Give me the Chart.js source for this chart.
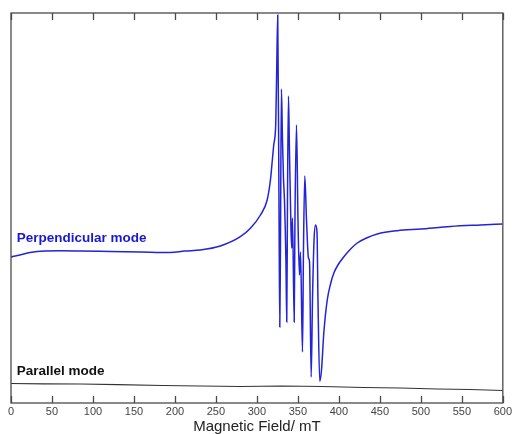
<!DOCTYPE html>
<html>
<head>
<meta charset="utf-8">
<script src="https://cdn.jsdelivr.net/npm/chart.js@4/dist/chart.umd.min.js"></script>
<style>
  html, body { margin: 0; padding: 0; background: #fff; }
  canvas { display: block; }
</style>
</head>
<body>
<canvas id="epr" width="514" height="434"></canvas>
<script>
// --- DATOS ---
// Perpendicular mode (field in mT, intensity in arbitrary units)
const fieldPerp = [0, 11, 23.2, 41.5, 59.9, 84.3, 121, 157.6, 194.3, 212, 231, 255.4, 279.8,
  292.1, 304.3, 312.5, 316.5, 318.6, 320.5, 323, 324.2, 325.4, 326.9, 327.9, 328.7, 329.9,
  331.2, 332.4, 333.6, 335.4, 336.4, 337.3, 338.5, 339.7, 341.6, 342.5, 343.4, 345.5, 346.4,
  348.3, 350.1, 351.9, 353.2, 355.6, 356.8, 358.4, 360.5, 362.9, 364.2, 366.2, 367.8, 369.7,
  371.5, 373.3, 374.5, 376.7, 378.8, 381.6, 385.8, 389.8, 393.9, 399.6, 406.1, 414.3, 422.4,
  433.8, 446.9, 471.3, 499.8, 536.5, 573, 600];
const intensityPerp = [146, 148, 150.5, 152, 152.2, 152, 151.5, 151, 150.5, 152, 153, 157, 166.3,
  174.7, 188, 203, 223, 241, 258, 280, 336, 388, 203, 76, 153, 314,
  263, 225, 203, 143, 81, 203, 307, 253, 173, 155, 185, 81, 183,
  278, 183, 128, 151, 51, 153, 227, 183, 145, 141, 26, 103, 163,
  178, 171, 103, 21.5, 33, 70, 103, 119, 130, 139, 146.3, 154, 160,
  165, 169, 172.3, 174, 176.5, 178, 179];

// Parallel mode
const fieldPar = [0, 40, 85, 130, 185, 230, 280, 330, 380, 430, 475, 520, 560, 600];
const intensityPar = [19.5, 19.2, 19, 18.3, 17.5, 17, 16.5, 17, 16.5, 15.5, 15, 14, 13.5, 12.5];

const xTicks = [0, 50, 100, 150, 200, 250, 300, 350, 400, 450, 500, 550, 600];
const seriesNames = ['Perpendicular mode', 'Parallel mode'];

const toPoints = (xs, ys) => xs.map((x, i) => ({ x: x, y: ys[i] }));

// Marco completo con marcas de graduación hacia dentro + etiquetas de serie
const framePlugin = {
  id: 'frame',
  afterDatasetsDraw(chart) {
    const { ctx, chartArea: a, scales } = chart;
    const xs = scales.x, ys = scales.y;
    ctx.save();
    ctx.strokeStyle = '#4a4a4a';
    ctx.lineWidth = 1.3;
    ctx.strokeRect(a.left, a.top, a.right - a.left, a.bottom - a.top);
    ctx.beginPath();
    xTicks.forEach(v => {
      const px = Math.round(xs.getPixelForValue(v)) + 0.5;
      ctx.moveTo(px, a.bottom); ctx.lineTo(px, a.bottom - 7);
      ctx.moveTo(px, a.top); ctx.lineTo(px, a.top + 7);
    });
    ctx.stroke();

    ctx.font = 'bold 13.5px "Liberation Sans", Arial, sans-serif';
    ctx.textAlign = 'left';
    ctx.textBaseline = 'alphabetic';
    ctx.fillStyle = 'rgb(25, 25, 210)';
    ctx.fillText(seriesNames[0], xs.getPixelForValue(7), ys.getPixelForValue(161));
    ctx.fillStyle = '#111';
    ctx.fillText(seriesNames[1], xs.getPixelForValue(7), ys.getPixelForValue(28));
    ctx.restore();
  }
};

new Chart(document.getElementById('epr'), {
  type: 'line',
  data: {
    datasets: [
      {
        label: seriesNames[0],
        data: toPoints(fieldPerp, intensityPerp),
        borderColor: 'rgb(35, 35, 215)',
        borderWidth: 1.5,
        pointRadius: 0,
        cubicInterpolationMode: 'monotone'
      },
      {
        label: seriesNames[1],
        data: toPoints(fieldPar, intensityPar),
        borderColor: '#333',
        borderWidth: 1.2,
        pointRadius: 0,
        tension: 0
      }
    ]
  },
  options: {
    responsive: false,
    animation: false,
    layout: { padding: { left: 11, right: 11, top: 13, bottom: 0 } },
    plugins: { legend: { display: false }, tooltip: { enabled: false } },
    scales: {
      x: {
        type: 'linear',
        min: 0, max: 600,
        afterBuildTicks: s => { s.ticks = xTicks.map(v => ({ value: v })); },
        afterFit: s => { s.height = 31; },
        grid: { display: false, drawTicks: false },
        border: { display: false },
        ticks: {
          padding: 2,
          maxRotation: 0,
          color: '#444',
          font: { family: '"Liberation Sans", Arial, sans-serif', size: 11 }
        },
        title: {
          display: true,
          text: 'Magnetic Field/ mT',
          color: '#222',
          padding: { top: 0, bottom: 0 },
          font: { family: '"Liberation Sans", Arial, sans-serif', size: 15, lineHeight: 1 }
        }
      },
      y: {
        display: false,
        min: 0, max: 390
      }
    }
  },
  plugins: [framePlugin]
});
</script>
</body>
</html>
